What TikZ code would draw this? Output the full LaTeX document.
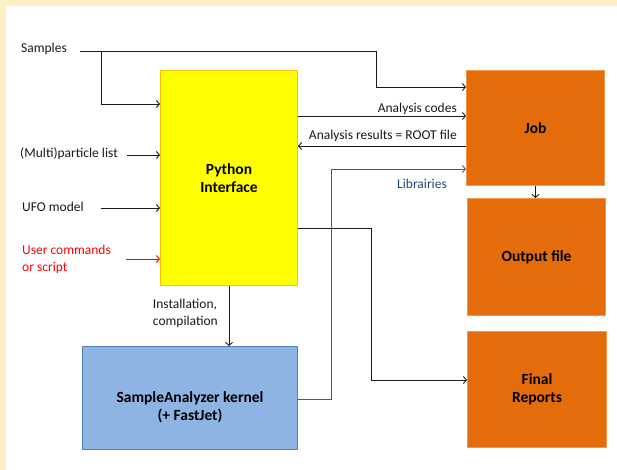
\documentclass[tikz,border=0pt]{standalone}
\usepackage{fontspec}
\setmainfont{Carlito}
\usetikzlibrary{arrows.meta}
\definecolor{bgpale}{HTML}{FFEDC4}
\definecolor{pyfill}{HTML}{FFFF00}
\definecolor{pyline}{HTML}{FFC000}
\definecolor{orfill}{HTML}{E46C0A}
\definecolor{orline}{HTML}{F79646}
\definecolor{safill}{HTML}{8EB4E3}
\definecolor{saline}{HTML}{4F81BD}
\definecolor{libline}{HTML}{385D8A}
\definecolor{libtext}{HTML}{1F497D}
\definecolor{txt}{HTML}{1A1A1A}
\begin{document}
\begin{tikzpicture}[x=1pt,y=-1pt,
  font=\fontsize{13.5}{17}\selectfont,
  boldtext/.style={font=\fontsize{15.5}{18.5}\selectfont\bfseries, text=black},
  box/.style={draw, line width=1pt, inner sep=0pt, anchor=north west, align=center, boldtext},
  conn/.style={line width=0.9pt, draw=txt, -{Straight Barb[length=3pt,width=7pt]}},
  lbl/.style={inner sep=0pt, text=txt, align=left}]
\fill[bgpale] (0,0) rectangle (617,470);
\fill[white] (6,6) rectangle (617,470);
\useasboundingbox (0,0) rectangle (617,470);

% boxes
\node[box, fill=pyfill, draw=pyline, minimum width=137pt, minimum height=215pt] (Py) at (160,70) {Python\\Interface};
\node[box, fill=orfill, draw=orline, minimum width=138pt, minimum height=115pt] (Job) at (466,70) {Job};
\node[box, fill=orfill, draw=orline, minimum width=138pt, minimum height=117pt] (Out) at (467,198) {Output file};
\node[box, fill=orfill, draw=orline, minimum width=139pt, minimum height=116pt] (Fin) at (467,331) {Final\\Reports};
\node[box, fill=safill, draw=saline, minimum width=215pt, minimum height=103pt] (SA) at (82,346) {};
\node[inner sep=0pt, align=center, boldtext] (SAt) at (190,407) {SampleAnalyzer kernel\\(+ FastJet)};

% left labels
\node[lbl, anchor=west] (tS) at (21,49) {Samples};
\node[lbl, anchor=west] (tM) at (20,154) {(Multi)particle list};
\node[lbl, anchor=west] (tU) at (22,207) {UFO model};
\node[lbl, anchor=west, text=red] (tR) at (22,259) {User commands\\or script};

% samples connectors
\coordinate (sA) at (80,51);
\coordinate (sB) at (376,51);
\coordinate (sC) at (376,87);
\coordinate (br) at (101,51);
\coordinate (brd) at (101,104);
\draw[conn] (sA) -- (sB) -- (sC) -- (sC -| Job.west);
\draw[conn] (br) -- (brd) -- (brd -| Py.west);

% left inputs
\coordinate (m0) at (127,155);
\coordinate (u0) at (101,208);
\coordinate (r0) at (126,259);
\draw[conn] (m0) -- (m0 -| Py.west);
\draw[conn] (u0) -- (u0 -| Py.west);
\draw[conn, draw=red] (r0) -- (r0 -| Py.west);

% analysis codes / results
\coordinate (ac) at (380,116);
\coordinate (ar) at (380,146);
\draw[conn] (ac -| Py.east) -- (ac -| Job.west);
\draw[conn] (ar -| Job.west) -- (ar -| Py.east);
\node[lbl, anchor=east] (tAC) at (457,109) {Analysis codes};
\node[lbl, anchor=east] (tAR) at (457,136) {Analysis results = ROOT file};

% libraries
\coordinate (l1) at (331,399);
\coordinate (l2) at (331,169);
\draw[conn, draw=libline] (l1 -| SA.east) -- (l1) -- (l2) -- (l2 -| Job.west);
\node[lbl, text=libtext] (tL) at (422,184) {Librairies};

% job -> output
\draw[conn] (Job.south) -- (Job.south |- Out.north);

% python -> final reports
\coordinate (f1) at (371,228);
\coordinate (f2) at (371,380);
\draw[conn] (f1 -| Py.east) -- (f1) -- (f2) -- (f2 -| Fin.west);

% installation
\draw[conn] (Py.south) -- (Py.south |- SA.north);
\node[lbl, anchor=east, align=left] (tI) at (218,313) {Installation,\\compilation};
\end{tikzpicture}
\end{document}
